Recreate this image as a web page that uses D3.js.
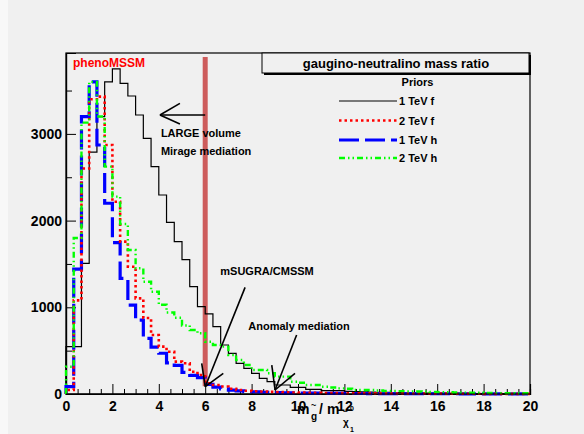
<!DOCTYPE html>
<html>
<head>
<meta charset="utf-8">
<script src="https://cdn.jsdelivr.net/npm/d3@7"></script>
<style>
  body { margin: 0; background: #f0f0f0; }
  svg { display: block; font-family: "Liberation Sans", Arial, Helvetica, sans-serif; font-weight: bold; }
</style>
</head>
<body>
<script>
var w = 584;
var h = 434;

// histogram bins: 60 bins of width 1/3 over 0..20
var binWidth = 1 / 3;
var xTicks = [0, 2, 4, 6, 8, 10, 12, 14, 16, 18, 20];
var yTicks = [0, 1000, 2000, 3000];

var tev1f = [546, 546, 1507, 2790, 3200, 3600, 3750, 3583, 3437, 3218, 2949, 2622, 2295, 1980, 1757,
  1550, 1238, 1007, 923, 776, 565, 469, 354, 296, 239, 181, 142, 104, 104, 77,
  77, 54, 54, 38, 38, 38, 30, 27, 25, 22, 20, 18, 16, 15, 14,
  12, 11, 10, 9, 8, 8, 7, 6, 6, 5, 5, 4, 4, 3, 3];
var tev2f = [46, 1080, 2600, 3400, 3430, 2872, 2218, 1757, 1468, 1103, 877, 680, 546, 488, 373,
  354, 257, 219, 123, 104, 86, 60, 46, 38, 31, 28, 25, 22, 20, 18,
  16, 14, 13, 12, 11, 10, 9, 9, 8, 8, 7, 7, 6, 6, 5,
  5, 5, 4, 4, 4, 3, 3, 3, 3, 2, 2, 2, 2, 2, 2];
var tev1h = [84, 1440, 3200, 3600, 2872, 2200, 1745, 1334, 1026, 853, 642, 540, 470, 360, 330,
  250, 215, 190, 110, 80, 60, 45, 35, 28, 24, 20, 18, 16, 14, 12,
  11, 10, 9, 8, 8, 7, 7, 6, 6, 5, 5, 5, 4, 4, 4,
  4, 3, 3, 3, 3, 3, 2, 2, 2, 2, 2, 2, 2, 2, 2];
var tev2h = [315, 1800, 3130, 3600, 3200, 2622, 2276, 1960, 1661, 1450, 1295, 1180, 1030, 940, 880,
  790, 738, 700, 603, 565, 546, 450, 392, 334, 277, 277, 239, 200, 200, 142,
  130, 104, 104, 84, 75, 65, 60, 46, 46, 46, 40, 35, 35, 33, 30,
  28, 27, 25, 22, 20, 18, 16, 15, 14, 12, 11, 10, 9, 8, 8];

var seriesNames = ["1 TeV f", "2 TeV f", "1 TeV h", "2 TeV h"];

var svg = d3.select("body")
  .append("svg")
  .attr("width", w)
  .attr("height", h);

// light canvas edge on the left
svg.append("rect").attr("x", 0).attr("y", 0).attr("width", 8).attr("height", h).attr("fill", "#f8f8f8");

var x = d3.scaleLinear().domain([0, 20]).range([66, 530]);
var y = d3.scaleLinear().domain([0, 3933]).range([394, 53]);

// frame
svg.append("rect")
  .attr("x", x(0)).attr("y", y(3933))
  .attr("width", x(20) - x(0)).attr("height", y(0) - y(3933))
  .attr("fill", "none").attr("stroke", "black").attr("stroke-width", 1.2);

// axes (ROOT style ticks point inward)
var xAxis = svg.append("g").attr("transform", "translate(0," + y(0) + ")")
  .call(d3.axisBottom(x).tickValues(xTicks).tickSize(-10).tickPadding(7).tickFormat(d3.format("d")));
svg.append("g").attr("transform", "translate(0," + y(0) + ")")
  .call(d3.axisBottom(x).tickValues(d3.range(0.5, 20, 0.5).filter(function (d) { return d % 2 != 0; }))
    .tickSize(-5).tickFormat(""));
var yAxis = svg.append("g").attr("transform", "translate(" + x(0) + ",0)")
  .call(d3.axisLeft(y).tickValues(yTicks).tickSize(-10).tickPadding(4).tickFormat(d3.format("d")));
svg.append("g").attr("transform", "translate(" + x(0) + ",0)")
  .call(d3.axisLeft(y).tickValues([500, 1500, 2500, 3500]).tickSize(-6).tickFormat(""));

svg.selectAll(".domain").attr("stroke", "black").attr("stroke-width", 1.2);
svg.selectAll(".tick line").attr("stroke", "black");
svg.selectAll(".tick text").attr("font-size", 14).attr("font-weight", "bold").attr("font-family", "Liberation Sans, Arial").attr("fill", "black");

// red vertical band at ratio 6
svg.append("rect")
  .attr("x", x(6) - 2.5).attr("y", y(3887))
  .attr("width", 5).attr("height", y(90) - y(3887))
  .attr("fill", "#cd5c5c");

// histograms as step outlines
var stepLine = d3.line()
  .x(function (d) { return x(d[0]); })
  .y(function (d) { return y(d[1]); })
  .curve(d3.curveStepAfter);

function histPoints(vals) {
  var pts = [[0, 0]];
  vals.forEach(function (v, i) { pts.push([i * binWidth, v]); });
  pts.push([20, vals[vals.length - 1]]);
  pts.push([20, 0]);
  return pts;
}

var styles = [
  { data: tev1f, color: "black", width: 1.2, dash: null },
  { data: tev1h, color: "#0000ff", width: 3.2, dash: "20,6" },
  { data: tev2f, color: "#ff0000", width: 2.6, dash: "2.5,3" },
  { data: tev2h, color: "#00ff00", width: 2.4, dash: "6,3,1.5,3,1.5,3" }
];

styles.forEach(function (s) {
  svg.append("path")
    .attr("d", stepLine(histPoints(s.data)))
    .attr("fill", "none")
    .attr("stroke", s.color)
    .attr("stroke-width", s.width)
    .attr("stroke-dasharray", s.dash);
});

// redraw bottom axis line on top
svg.append("line").attr("x1", x(0)).attr("x2", x(20)).attr("y1", y(0)).attr("y2", y(0))
  .attr("stroke", "black").attr("stroke-width", 1.2);

// arrows (data units)
var arrows = [
  { tail: [6, 3218], tip: [4.05, 3218], w1: [4.91, 3352], w2: [4.91, 3114] },
  { tail: [7.72, 1230], tip: [6.0, 84], w1: [5.85, 354], w2: [6.78, 239] },
  { tail: [9.94, 680], tip: [9.01, 46], w1: [8.87, 334], w2: [9.87, 239] }
];
arrows.forEach(function (a) {
  [a.tail, a.w1, a.w2].forEach(function (p) {
    svg.append("line")
      .attr("x1", x(a.tip[0])).attr("y1", y(a.tip[1]))
      .attr("x2", x(p[0])).attr("y2", y(p[1]))
      .attr("stroke", "black").attr("stroke-width", 1.6);
  });
});

var notes = [
  { t: "LARGE volume", xv: 4.09, yv: 2960 },
  { t: "Mirage mediation", xv: 4.09, yv: 2755 },
  { t: "mSUGRA/CMSSM", xv: 6.65, yv: 1375 },
  { t: "Anomaly mediation", xv: 7.86, yv: 740 }
];
svg.selectAll("text.note")
  .data(notes)
  .enter()
  .append("text")
  .attr("class", "note")
  .attr("x", function (d) { return x(d.xv); })
  .attr("y", function (d) { return y(d.yv); })
  .attr("font-size", 11)
  .text(function (d) { return d.t; });

svg.append("text")
  .attr("x", 73).attr("y", 66.5)
  .attr("font-size", 12).attr("fill", "#ff0000")
  .text("phenoMSSM");

// title box with shadow
svg.append("rect").attr("x", 264).attr("y", 55).attr("width", 267).attr("height", 20).attr("fill", "black");
svg.append("rect").attr("x", 262).attr("y", 53).attr("width", 267).attr("height", 20)
  .attr("fill", "#f0f0f0").attr("stroke", "black").attr("stroke-width", 1);
svg.append("text").attr("x", 396).attr("y", 68).attr("text-anchor", "middle")
  .attr("font-size", 13).text("gaugino-neutralino mass ratio");

// legend
svg.append("text").attr("x", 417.5).attr("y", 86).attr("text-anchor", "middle")
  .attr("font-size", 11).text("Priors");
var legendStyles = [styles[0], styles[2], styles[1], styles[3]];
var legendY = [101, 120.5, 140, 158];
legendStyles.forEach(function (s, i) {
  svg.append("line")
    .attr("x1", 339).attr("x2", 397)
    .attr("y1", legendY[i]).attr("y2", legendY[i])
    .attr("stroke", s.color).attr("stroke-width", s.width)
    .attr("stroke-dasharray", s.dash);
  svg.append("text")
    .attr("x", 399).attr("y", legendY[i] + 4)
    .attr("font-size", 11)
    .text(seriesNames[i]);
});

// x-axis title: m_g~ / m_chi~0_1
var tt = svg.append("g").attr("font-size", 14);
tt.append("text").attr("x", 297).attr("y", 414).text("m");
tt.append("text").attr("x", 311).attr("y", 420).attr("font-size", 10).text("g");
tt.append("text").attr("x", 311).attr("y", 408).attr("font-size", 9).text("~");
tt.append("text").attr("x", 319).attr("y", 414).text("/");
tt.append("text").attr("x", 327).attr("y", 414).text("m");
tt.append("text").attr("x", 343).attr("y", 426).attr("font-size", 10).text("χ");
tt.append("text").attr("x", 343).attr("y", 414).attr("font-size", 8).text("~");
tt.append("text").attr("x", 350).attr("y", 411).attr("font-size", 7).text("0");
tt.append("text").attr("x", 350).attr("y", 432).attr("font-size", 7).text("1");
</script>
</body>
</html>
